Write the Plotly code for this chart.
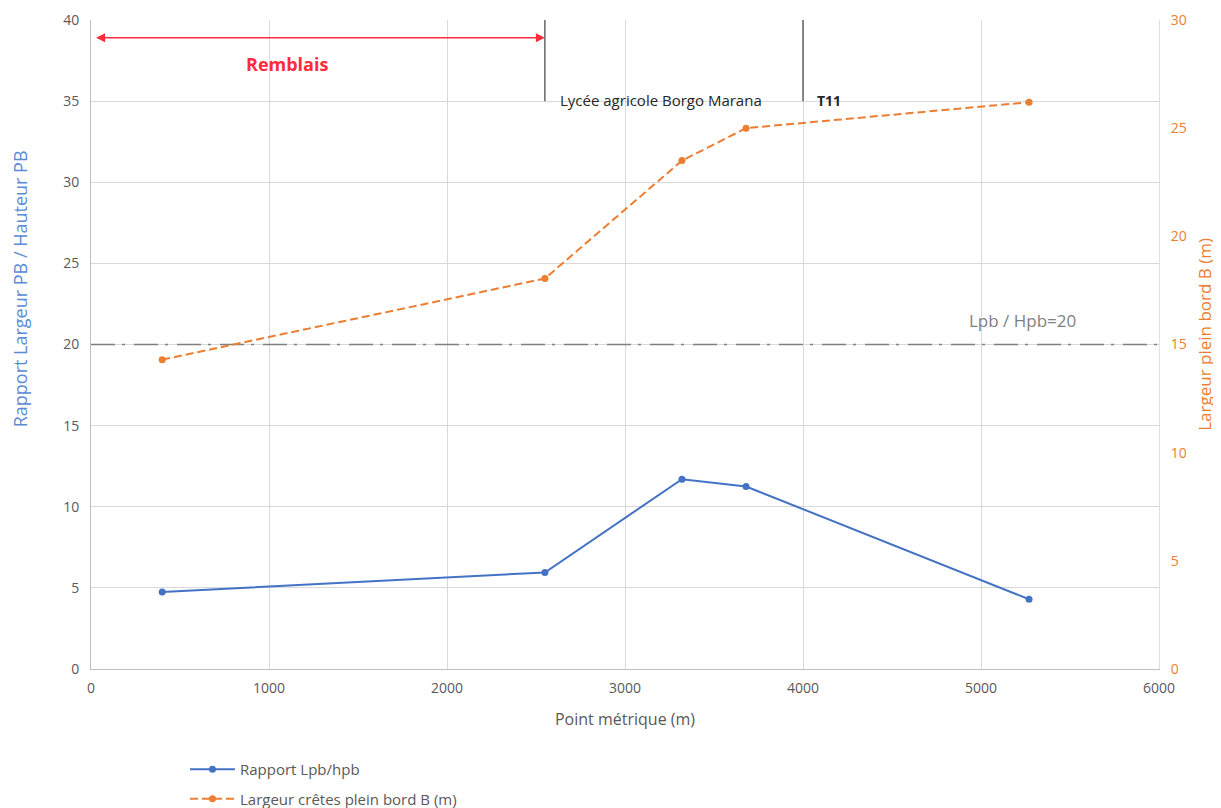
import plotly.graph_objects as go

# Data
pm = [400, 2550, 3320, 3680, 5270]
rapport = [4.75, 5.95, 11.7, 11.25, 4.3]
largeur = [14.3, 18.05, 23.5, 25.0, 26.2]

x_ticks = [0, 1000, 2000, 3000, 4000, 5000, 6000]
seuil = 20
limite_remblais = 2550
limite_t11 = 4000

blue = "#4472C4"
orange = "#ED7D31"
grey_text = "#595959"
font_family = "Open Sans, Liberation Sans, Arial"

fig = go.Figure()

fig.add_trace(go.Scatter(
    x=pm, y=rapport, name="Rapport Lpb/hpb", mode="lines+markers",
    line=dict(color=blue, width=2), marker=dict(color=blue, size=7),
    legendgroup="a", yaxis="y"))
fig.add_trace(go.Scatter(
    x=pm, y=largeur, name="Largeur crêtes plein bord B (m)", mode="lines+markers",
    line=dict(color=orange, width=2, dash="8px,4px"), marker=dict(color=orange, size=7),
    legendgroup="b", yaxis="y2"))

# Threshold line Lpb/Hpb = 20
fig.add_trace(go.Scatter(
    x=[0, 6000], y=[seuil, seuil], mode="lines", showlegend=False, hoverinfo="skip",
    line=dict(color="#7F7F7F", width=1.5, dash="24px,7px,3px,9px"), yaxis="y"))

# Vertical markers
for xv in [limite_remblais, limite_t11]:
    fig.add_shape(type="line", xref="x", yref="y", x0=xv, x1=xv, y0=35, y1=40,
                  line=dict(color="#404040", width=1.2))

# Remblais arrow
fig.add_annotation(x=limite_remblais, y=38.9, ax=20, ay=38.9, xref="x", yref="y",
                   axref="x", ayref="y", text="", showarrow=True,
                   arrowhead=2, arrowside="end+start", arrowsize=1.2, arrowwidth=1.5,
                   arrowcolor="#FF2A3A")
fig.add_annotation(x=1100, y=37.3, xref="x", yref="y", text="<b>Remblais</b>",
                   showarrow=False, font=dict(color="#FF2A3A", size=18, family=font_family))
fig.add_annotation(x=2625, y=35.05, xref="x", yref="y", text="Lycée agricole Borgo Marana",
                   showarrow=False, xanchor="left", font=dict(color="#262626", size=15, family=font_family))
fig.add_annotation(x=4070, y=35.05, xref="x", yref="y", text="<b>T11</b>",
                   showarrow=False, xanchor="left", font=dict(color="#262626", size=14, family=font_family))
fig.add_annotation(x=5235, y=21.45, xref="x", yref="y", text="Lpb / Hpb=20",
                   showarrow=False, font=dict(color="#7F7F7F", size=17, family=font_family))

fig.update_layout(
    width=1221, height=808,
    margin=dict(l=83, r=70, t=12, b=147),
    paper_bgcolor="white", plot_bgcolor="white",
    font=dict(family=font_family, size=14, color=grey_text),
    xaxis=dict(range=[0, 6000], tickvals=x_ticks, showgrid=True, gridcolor="#D9D9D9",
               showline=True, linecolor="#BFBFBF", zeroline=False, automargin=False,
               ticklabelstandoff=6,
               title=dict(text="Point métrique (m)", font=dict(size=16, color=grey_text), standoff=18),
               tickfont=dict(size=14, color=grey_text)),
    yaxis=dict(range=[0, 40], dtick=5, showgrid=True, gridcolor="#D9D9D9",
               showline=True, linecolor="#BFBFBF", zeroline=False, automargin=False,
               ticklabelstandoff=8,
               tickfont=dict(size=14, color=grey_text)),
    yaxis2=dict(range=[0, 30], dtick=5, overlaying="y", side="right", showgrid=False,
                showline=True, linecolor="#D6E2F3", zeroline=False, automargin=False,
                ticklabelstandoff=8,
                tickfont=dict(size=14, color=orange)),
    legend=dict(x=0.088, y=0.078, xref="paper", yref="container", xanchor="left", yanchor="top",
                orientation="v",
                font=dict(size=15, color=grey_text), bgcolor="rgba(0,0,0,0)",
                tracegroupgap=7, itemwidth=45),
    showlegend=True,
)

# Left and right axis titles as rotated paper annotations (offset from centre like the reference)
fig.add_annotation(x=0, xshift=-71, y=0.585, xref="paper", yref="paper",
                   text="Rapport Largeur PB / Hauteur PB", showarrow=False, textangle=-90,
                   xanchor="center", yanchor="middle",
                   font=dict(color="#5B8BD6", size=18, family=font_family))
fig.add_annotation(x=1, xshift=46, y=0.515, xref="paper", yref="paper",
                   text="Largeur plein bord B (m)", showarrow=False, textangle=-90,
                   xanchor="center", yanchor="middle",
                   font=dict(color=orange, size=17, family=font_family))

fig.write_html("out.html")
